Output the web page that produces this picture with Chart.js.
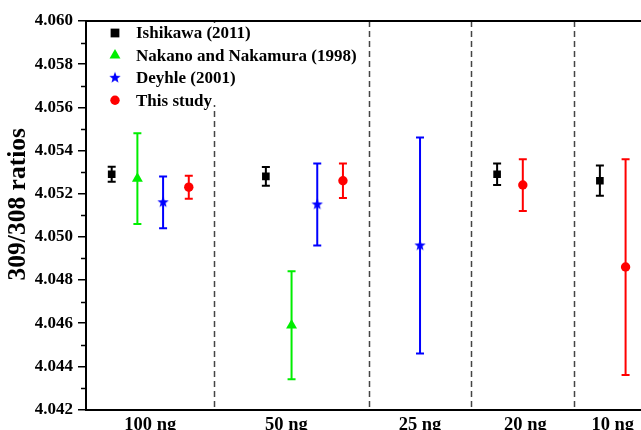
<!DOCTYPE html>
<html>
<head>
<meta charset="utf-8">
<script src="https://cdn.jsdelivr.net/npm/chart.js@4.4.0/dist/chart.umd.min.js"></script>
<style>
  html, body { margin: 0; padding: 0; background: #fff; }
  #wrap { width: 641px; height: 430px; }
</style>
</head>
<body>
<div id="wrap"><canvas id="chart" width="641" height="430"></canvas></div>
<script>
// sample groups along the x axis
const groupLabels = ['100 ng', '50 ng', '25 ng', '20 ng', '10 ng'];
const groupLabelPos = [2.5, 7.8, 13, 17.1, 20.5];
const separators = [5, 11, 15, 19];

// Ishikawa (2011)
const ishikawaX = [1, 7, 16, 20];
const ishikawaY = [4.0529, 4.0528, 4.0529, 4.0526];
const ishikawaErr = [0.00035, 0.00043, 0.0005, 0.0007];

// Nakano and Nakamura (1998)
const nakanoX = [2, 8];
const nakanoY = [4.0527, 4.0459];
const nakanoErr = [0.0021, 0.0025];

// Deyhle (2001)
const deyhleX = [3, 9, 13];
const deyhleY = [4.0516, 4.0515, 4.0496];
const deyhleErr = [0.0012, 0.0019, 0.0050];

// This study
const studyX = [4, 10, 17, 21];
const studyY = [4.0523, 4.0526, 4.0524, 4.0486];
const studyErr = [0.00053, 0.0008, 0.0012, 0.0050];

const yTicks = [4.042, 4.044, 4.046, 4.048, 4.050, 4.052, 4.054, 4.056, 4.058, 4.060];
const yTitle = '309/308 ratios';

const FONT = '"Liberation Serif", "Times New Roman", serif';

// filled five point star for the Deyhle marker
function makeStar(color, r) {
  const c = document.createElement('canvas');
  c.width = c.height = r * 2 + 2;
  const g = c.getContext('2d');
  g.fillStyle = color;
  g.beginPath();
  for (let i = 0; i < 10; i++) {
    const rad = (i % 2 === 0) ? r : r * 0.42;
    const a = -Math.PI / 2 + i * Math.PI / 5;
    const px = c.width / 2 + rad * Math.cos(a);
    const py = c.height / 2 + rad * Math.sin(a);
    if (i === 0) g.moveTo(px, py); else g.lineTo(px, py);
  }
  g.closePath();
  g.fill();
  return c;
}

function pts(xs, ys, es) {
  return xs.map((x, i) => ({ x: x, y: ys[i], e: es[i] }));
}

const datasets = [
  { label: 'Ishikawa (2011)', data: pts(ishikawaX, ishikawaY, ishikawaErr),
    color: '#000000', pointStyle: 'rect', pointRadius: 5.4 },
  { label: 'Nakano and Nakamura (1998)', data: pts(nakanoX, nakanoY, nakanoErr),
    color: '#00ee00', pointStyle: 'triangle', pointRadius: 6.3 },
  { label: 'Deyhle (2001)', data: pts(deyhleX, deyhleY, deyhleErr),
    color: '#0000ff', pointStyle: makeStar('#0000ff', 6), pointRadius: 6 },
  { label: 'This study', data: pts(studyX, studyY, studyErr),
    color: '#ff0000', pointStyle: 'circle', pointRadius: 4.7 }
].map(d => Object.assign(d, {
  backgroundColor: d.color, borderColor: d.color, borderWidth: 0,
  pointHoverRadius: d.pointRadius, showLine: false
}));

const errorBars = {
  id: 'errorBars',
  beforeDatasetsDraw(chart) {
    const { ctx, chartArea, scales: { x, y } } = chart;
    ctx.save();
    // dashed separators between sample groups
    ctx.strokeStyle = '#444';
    ctx.lineWidth = 1.5;
    ctx.setLineDash([6, 4]);
    separators.forEach(s => {
      const px = Math.round(x.getPixelForValue(s)) + 0.5;
      ctx.beginPath();
      ctx.moveTo(px, chartArea.top);
      ctx.lineTo(px, chartArea.bottom);
      ctx.stroke();
    });
    ctx.setLineDash([]);
    // error bars
    chart.data.datasets.forEach(ds => {
      ctx.strokeStyle = ds.color;
      ctx.lineWidth = 2;
      ds.data.forEach(p => {
        const px = x.getPixelForValue(p.x);
        const top = y.getPixelForValue(p.y + p.e);
        const bot = y.getPixelForValue(p.y - p.e);
        ctx.beginPath();
        ctx.moveTo(px, top); ctx.lineTo(px, bot);
        ctx.moveTo(px - 4, top); ctx.lineTo(px + 4, top);
        ctx.moveTo(px - 4, bot); ctx.lineTo(px + 4, bot);
        ctx.stroke();
      });
    });
    ctx.restore();
  },
  afterDraw(chart) {
    const { ctx, chartArea, scales: { y } } = chart;
    ctx.save();
    // top frame line
    ctx.strokeStyle = '#000';
    ctx.lineWidth = 2;
    ctx.beginPath();
    ctx.moveTo(chartArea.left - 1, chartArea.top);
    ctx.lineTo(chartArea.right, chartArea.top);
    ctx.stroke();
    // minor ticks on y
    ctx.lineWidth = 1.5;
    for (let i = 0; i < yTicks.length - 1; i++) {
      const py = Math.round(y.getPixelForValue((yTicks[i] + yTicks[i + 1]) / 2)) + 0.5;
      ctx.beginPath();
      ctx.moveTo(chartArea.left - 5, py);
      ctx.lineTo(chartArea.left, py);
      ctx.stroke();
    }
    // y axis title (sits a little above the centre, as in the figure)
    ctx.save();
    ctx.translate(18, (chartArea.top + chartArea.bottom) / 2 - 11);
    ctx.rotate(-Math.PI / 2);
    ctx.fillStyle = '#000';
    ctx.font = 'bold 25.5px ' + FONT;
    ctx.textAlign = 'center';
    ctx.textBaseline = 'middle';
    ctx.fillText(yTitle, 0, 0);
    ctx.restore();
    // legend box
    const lx = chartArea.left + 4, ly = chartArea.top + 2;
    ctx.fillStyle = '#fff';
    ctx.fillRect(lx, ly, 272, 82);
    ctx.font = 'bold 17px ' + FONT;
    ctx.textBaseline = 'middle';
    chart.data.datasets.forEach((ds, i) => {
      const my = 33 + i * 22.4;
      ctx.fillStyle = ds.color;
      ctx.strokeStyle = ds.color;
      const r = ds.label === 'Ishikawa (2011)' ? 6.2 : ds.pointRadius;
      Chart.helpers.drawPoint(ctx, { pointStyle: ds.pointStyle, radius: r, rotation: 0, borderWidth: 0 }, 115, my);
      ctx.fillStyle = '#000';
      ctx.fillText(ds.label, 136, my + 1);
    });
    ctx.restore();
  }
};

new Chart(document.getElementById('chart'), {
  type: 'scatter',
  data: { datasets: datasets },
  options: {
    responsive: false,
    animation: false,
    layout: { autoPadding: false, padding: { top: 21, right: 0, bottom: 0, left: 0 } },
    plugins: { legend: { display: false }, tooltip: { enabled: false } },
    scales: {
      x: {
        type: 'linear',
        min: 0,
        max: 21.6,
        afterBuildTicks: scale => { scale.ticks = groupLabelPos.map(v => ({ value: v })); },
        afterFit: scale => { scale.height = 20.5; scale.paddingLeft = 0; scale.paddingRight = 0; },
        ticks: {
          autoSkip: false, maxRotation: 0, padding: -3,
          color: '#000',
          font: { family: FONT, size: 18.5, weight: 'bold' },
          callback: v => groupLabels[groupLabelPos.indexOf(v)]
        },
        grid: { display: false },
        border: { display: true, color: '#000', width: 2 }
      },
      y: {
        min: 4.042,
        max: 4.060,
        afterBuildTicks: scale => { scale.ticks = yTicks.map(v => ({ value: v })); },
        afterFit: scale => { scale.width = 86; scale.paddingTop = 0; scale.paddingBottom = 0; },
        ticks: {
          padding: 5,
          color: '#000',
          font: { family: FONT, size: 17, weight: 'bold' },
          callback: v => v.toFixed(3)
        },
        grid: { drawOnChartArea: false, drawTicks: true, tickLength: 8, color: '#000', lineWidth: 1.5 },
        border: { display: true, color: '#000', width: 2 }
      }
    }
  },
  plugins: [errorBars]
});
</script>
</body>
</html>
